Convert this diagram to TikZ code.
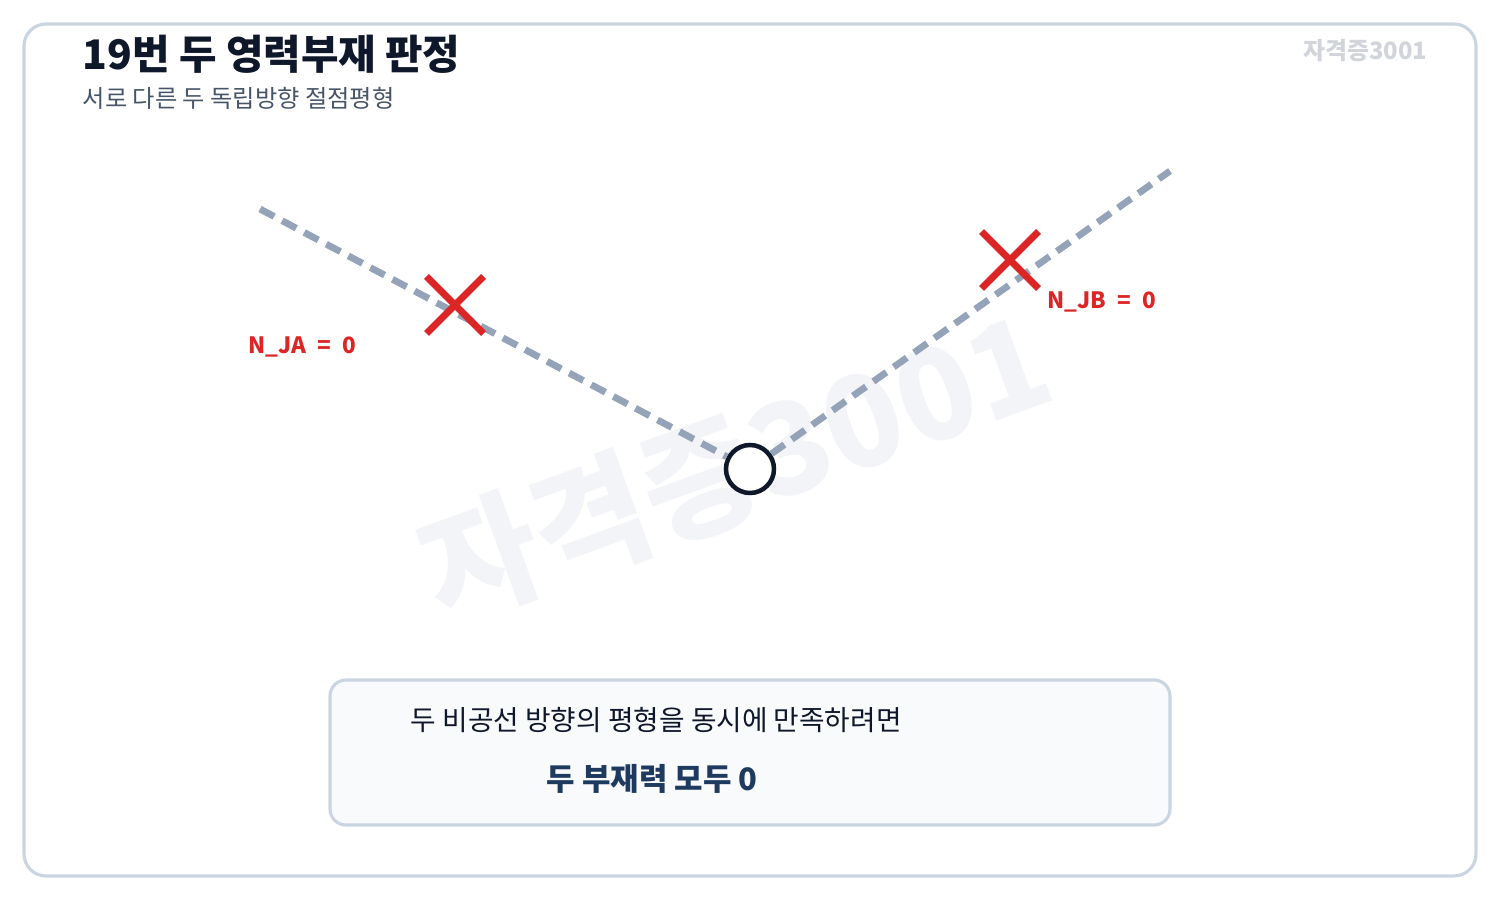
\documentclass[tikz,border=0pt]{standalone}
\usepackage{fontspec}
\setmainfont{Noto Sans CJK KR}
\usepackage{tikz}
\usetikzlibrary{shapes.misc}

\definecolor{frameline}{HTML}{CBD5E1}
\definecolor{boxfill}{HTML}{F8FAFC}
\definecolor{membergray}{HTML}{94A3B8}
\definecolor{markred}{HTML}{DC2626}
\definecolor{inkdark}{HTML}{0F172A}
\definecolor{subgray}{HTML}{475569}
\definecolor{navy}{HTML}{1E3A5F}
\definecolor{wmgray}{HTML}{D1D5DB}
\definecolor{wmlight}{HTML}{F2F4F7}

\begin{document}
\begin{tikzpicture}[
    frame/.style={frameline, line width=0.9pt, rounded corners=0.22cm},
    member/.style={membergray, line width=0.068cm, dash pattern=on 0.16cm off 0.09cm},
    joint/.style={circle, draw=inkdark, line width=0.045cm, fill=white, minimum size=0.48cm, inner sep=0pt},
    zero_mark/.style={cross out, draw=markred, line width=0.07cm, minimum size=0.5cm, inner sep=0pt},
    force_label/.style={text=markred, font=\fontsize{6.4}{8}\selectfont\bfseries},
    title_text/.style={anchor=west, inner sep=0pt, text=inkdark, font=\fontsize{11.6}{14}\selectfont\bfseries},
    sub_text/.style={anchor=west, inner sep=0pt, text=subgray, font=\fontsize{6.9}{8}\selectfont},
    note_box/.style={draw=frameline, line width=0.9pt, fill=boxfill, rounded corners=0.16cm}
]
    \useasboundingbox (0,0) rectangle (15,9);
    \draw[frame] (0.24,0.24) rectangle (14.76,8.76);
    % 워터마크
    \node[text=wmlight, rotate=20, font=\fontsize{36}{42}\selectfont\bfseries] (wm_big) at (7.35,4.34) {자격증3001};
    \node[anchor=east, inner sep=0pt, text=wmgray, font=\fontsize{6.8}{8}\selectfont\bfseries] (wm_small) at (14.28,8.49) {자격증3001};
    % 제목
    \node[title_text] (title) at (0.82,8.46) {19번 두 영력부재 판정};
    \node[sub_text] (subtitle) at (0.82,8.02) {서로 다른 두 독립방향 절점평형};
    % 부재와 절점
    \coordinate (A) at (2.60,6.91);
    \coordinate (B) at (11.70,7.29);
    \node[joint] (J) at (7.50,4.31) {};
    \draw[member] (A) -- (J);
    \draw[member] (J) -- (B);
    % 영부재 표시
    \node[zero_mark] (xa) at (4.55,5.95) {};
    \node[zero_mark] (xb) at (10.10,6.40) {};
    \node[force_label] (na) at (3.02,5.53) {N\_JA\enspace=\enspace0};
    \node[force_label] (nb) at (11.02,5.98) {N\_JB\enspace=\enspace0};
    % 결론 상자
    \draw[note_box] (3.30,0.75) rectangle (11.70,2.20);
    \node[anchor=west, inner sep=0pt, text=inkdark, font=\fontsize{7.9}{9}\selectfont] (note1) at (4.10,1.80) {두 비공선 방향의 평형을 동시에 만족하려면};
    \node[text=navy, font=\fontsize{8.8}{10}\selectfont\bfseries] (note2) at (6.52,1.21) {두 부재력 모두 0};
\end{tikzpicture}
\end{document}
